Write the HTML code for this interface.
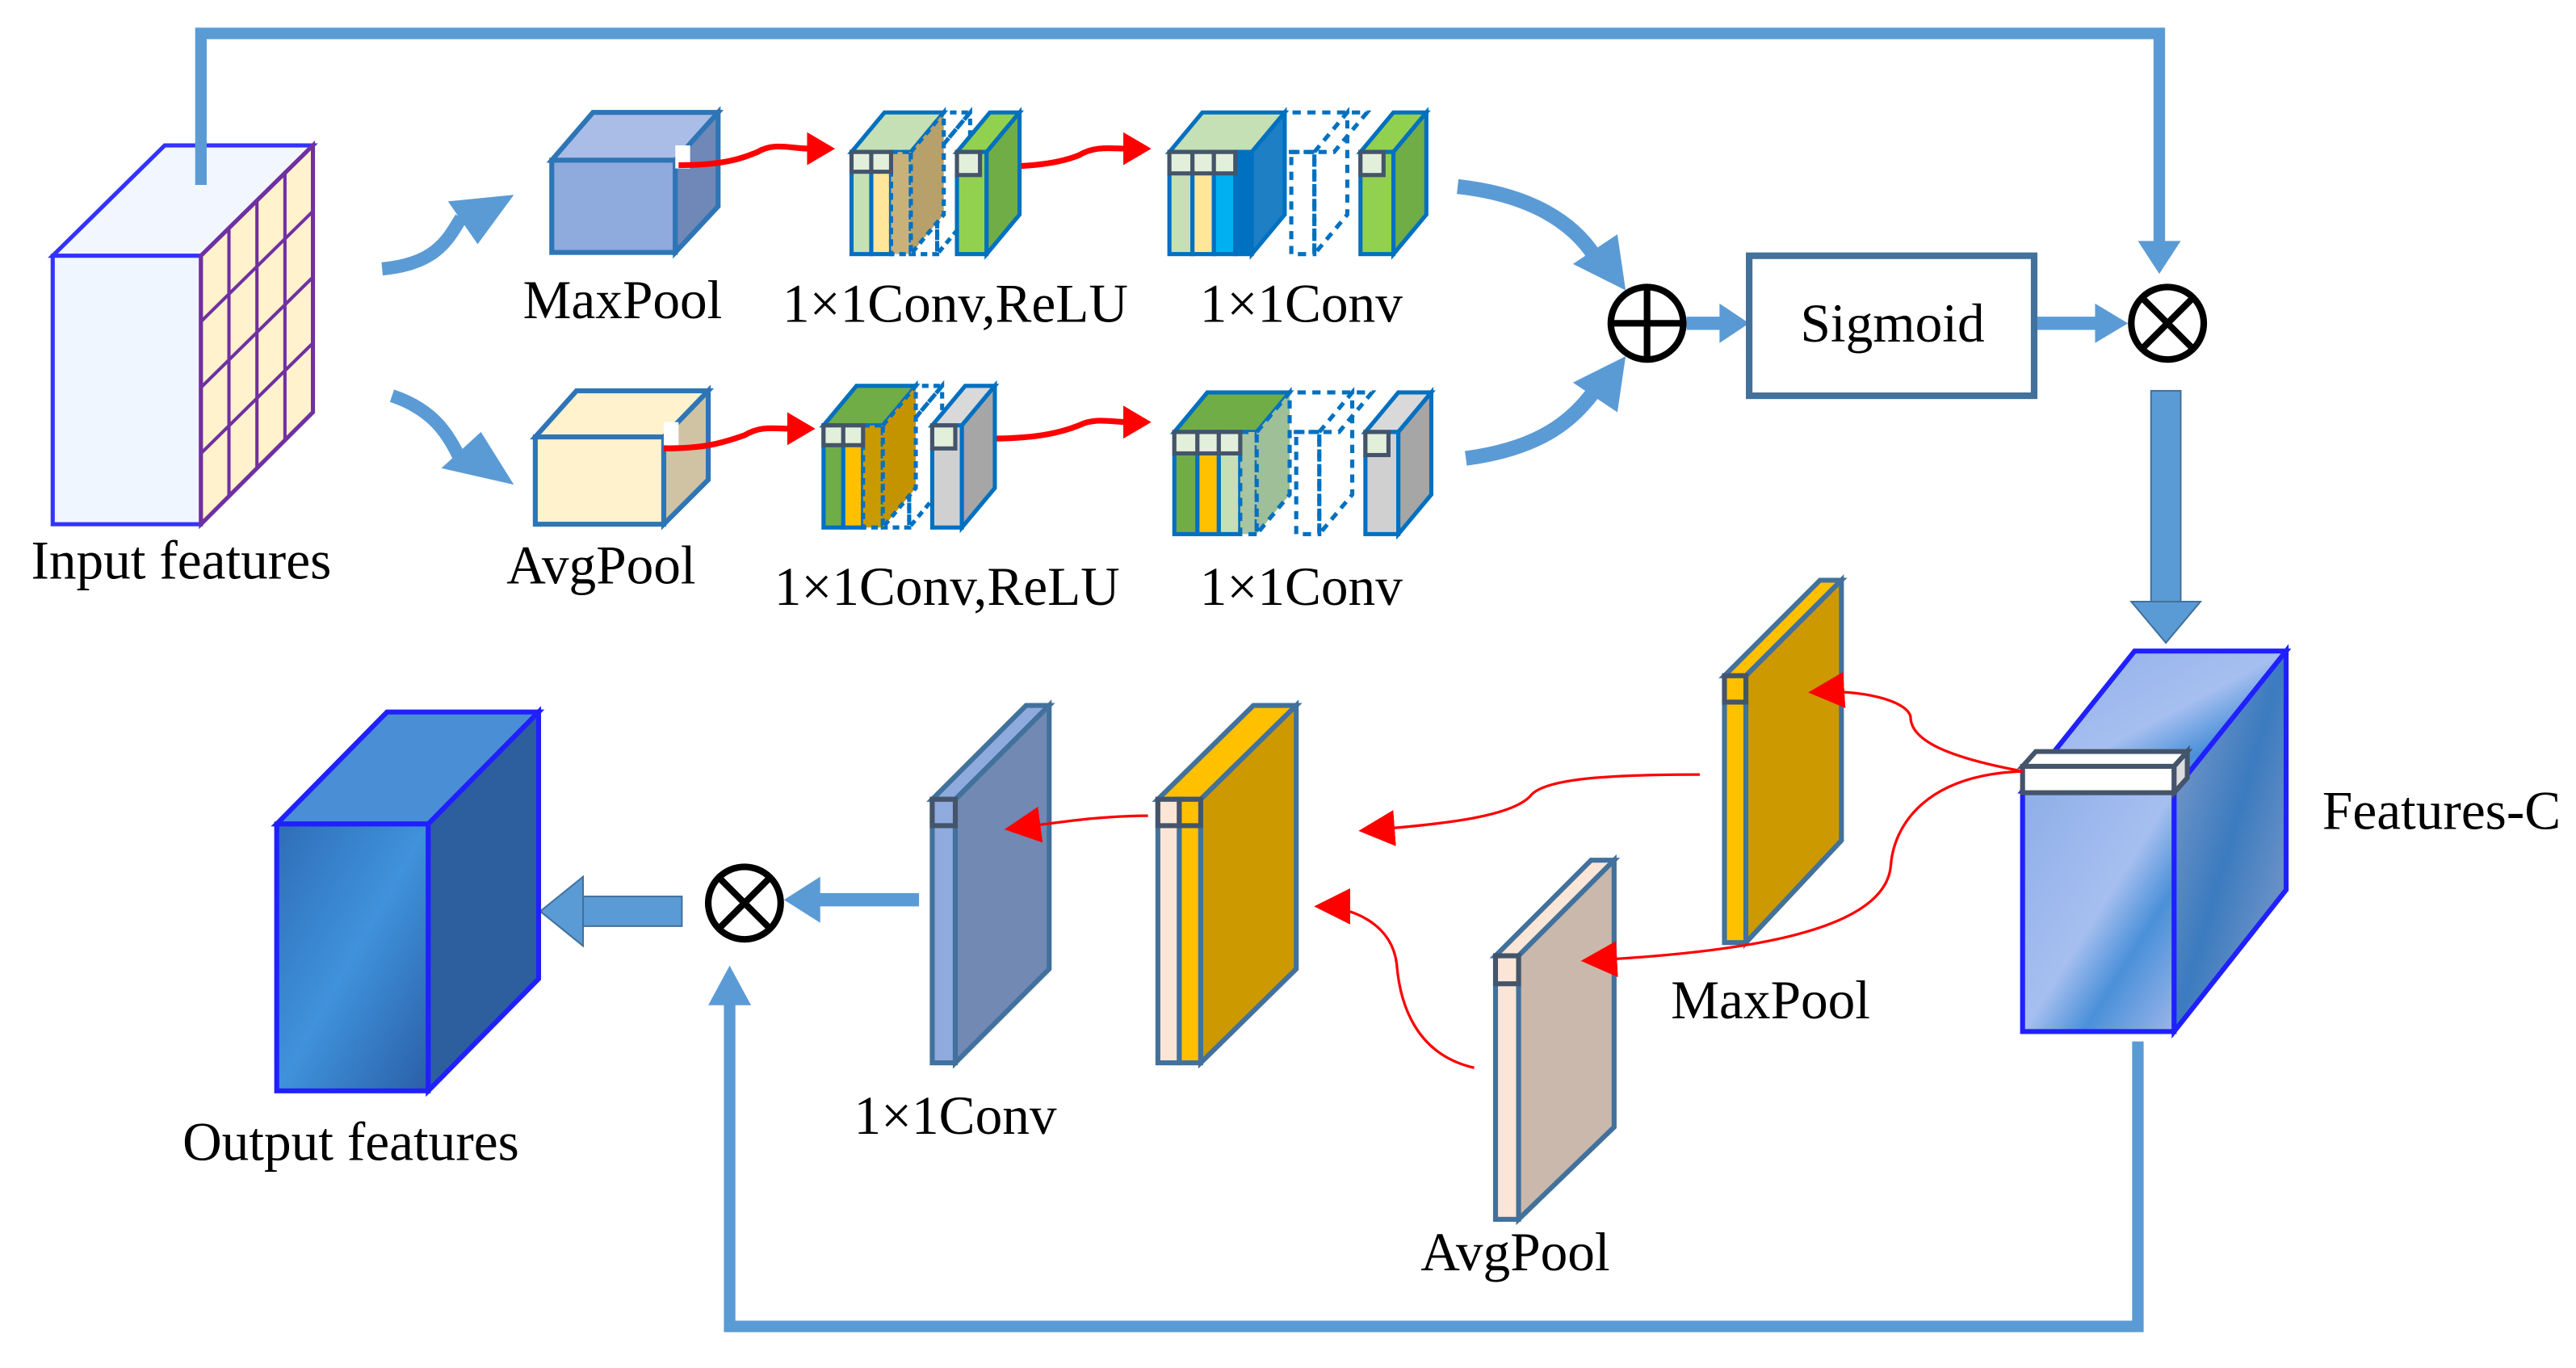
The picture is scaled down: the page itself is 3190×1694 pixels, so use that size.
<!DOCTYPE html>
<html><head><meta charset="utf-8"><style>
html,body{margin:0;padding:0;background:#fff;}
svg{display:block;}
text{font-family:"Liberation Serif",serif;font-size:33px;fill:#000;}
</style></head><body>
<svg width="3190" height="1694" viewBox="0 0 1564 830" xmlns="http://www.w3.org/2000/svg">
<defs>
<marker id="rb" viewBox="0 0 10 10" refX="9" refY="5" markerWidth="22" markerHeight="22" orient="auto" markerUnits="userSpaceOnUse"><path d="M0,0 L10,5 L0,10 z" fill="#ff0000"/></marker>
<linearGradient id="fc" x1="0" y1="0" x2="1" y2="1"><stop offset="0" stop-color="#8eaee8"/><stop offset="0.5" stop-color="#a6bff0"/><stop offset="0.7" stop-color="#4a90d9"/><stop offset="1" stop-color="#9bb5ea"/></linearGradient>
<linearGradient id="fs" x1="0" y1="0" x2="1" y2="1"><stop offset="0" stop-color="#8aa0cc"/><stop offset="0.5" stop-color="#3b7bbf"/><stop offset="1" stop-color="#8aa0cc"/></linearGradient>
<linearGradient id="oc" x1="0" y1="0" x2="1" y2="1"><stop offset="0" stop-color="#2f6db8"/><stop offset="0.5" stop-color="#3f92db"/><stop offset="1" stop-color="#2a5fa8"/></linearGradient>
</defs>

<!-- input cube -->
<polygon points="32,155 100,88 190,88 122,155" fill="#f2f7ff" stroke="#3333ff" stroke-width="2.5"/>
<rect x="32" y="155" width="90" height="163" fill="#f0f6ff" stroke="#3333ff" stroke-width="2.5"/>
<polygon points="122,155 190,88 190,250 122,318" fill="#fff2cc" stroke="#7030a0" stroke-width="2.5"/>
<g stroke="#7030a0" stroke-width="2" fill="none">
<line x1="139" y1="138" x2="139" y2="301"/><line x1="156" y1="121" x2="156" y2="284"/><line x1="173" y1="104" x2="173" y2="267"/>
<line x1="122" y1="195" x2="190" y2="128"/><line x1="122" y1="235" x2="190" y2="168"/><line x1="122" y1="275" x2="190" y2="208"/>
</g>
<text x="110" y="351" text-anchor="middle">Input features</text>

<!-- top loop -->
<polyline points="122,112 122,20 1311,20 1311,150" fill="none" stroke="#5b9bd5" stroke-width="7"/>
<path d="M1298,146 L1324,146 L1311,166 z" fill="#5b9bd5"/>

<!-- curved blue arrows from input -->
<path d="M232,163 C265,160 272,145 280,132" fill="none" stroke="#5b9bd5" stroke-width="8"/>
<path d="M272,122 L312,118 L290,148 z" fill="#5b9bd5"/>
<path d="M238,240 C262,248 272,262 280,280" fill="none" stroke="#5b9bd5" stroke-width="8"/>
<path d="M268,284 L312,294 L292,262 z" fill="#5b9bd5"/>

<!-- MaxPool cube -->
<polygon points="335,97 360,68 436,68 410,97" fill="#a9bde6" stroke="#2e75b6" stroke-width="3"/>
<rect x="335" y="97" width="75" height="56" fill="#8faadc" stroke="#2e75b6" stroke-width="3"/>
<polygon points="410,97 436,68 436,125 410,153" fill="#6f88b8" stroke="#2e75b6" stroke-width="3"/>
<rect x="410" y="88" width="9" height="14" fill="#fff"/>
<text x="378" y="193" text-anchor="middle">MaxPool</text>

<!-- AvgPool cube -->
<polygon points="325,265 350,237 430,237 403,265" fill="#fff2cc" stroke="#2e75b6" stroke-width="3"/>
<rect x="325" y="265" width="78" height="53" fill="#fff2cc" stroke="#2e75b6" stroke-width="3"/>
<polygon points="403,265 430,237 430,291 403,318" fill="#cfc3a3" stroke="#2e75b6" stroke-width="3"/>
<rect x="403" y="256" width="9" height="14" fill="#fff"/>
<text x="365" y="354" text-anchor="middle">AvgPool</text>

<!-- red wavy arrows -->
<path d="M412,100 C440,100 450,96 460,92 C470,86 480,90 492,90" fill="none" stroke="#ff0000" stroke-width="3.5"/>
<path d="M490,80 L507,90 L490,100 z" fill="#ff0000"/>
<path d="M602,101 C630,101 645,98 655,94 C665,88 675,90 685,90" fill="none" stroke="#ff0000" stroke-width="3.5"/>
<path d="M682,80 L699,90 L682,100 z" fill="#ff0000"/>
<path d="M403,272 C430,272 440,268 452,264 C462,258 470,260 480,260" fill="none" stroke="#ff0000" stroke-width="3.5"/>
<path d="M478,250 L495,260 L478,270 z" fill="#ff0000"/>
<path d="M602,266 C630,266 645,262 655,258 C665,253 675,256 685,256" fill="none" stroke="#ff0000" stroke-width="3.5"/>
<path d="M682,246 L699,256 L682,266 z" fill="#ff0000"/>

<!-- stack: top 1 -->
<g transform="translate(517,92)" stroke="#0070c0" stroke-width="2.5">
 <polygon points="36,0 56,-24 72,-24 52,0" fill="none" stroke-dasharray="4,3"/>
 <rect x="36" y="0" width="16" height="62" fill="none" stroke-dasharray="4,3"/>
 <polygon points="52,0 72,-24 72,38 52,62" fill="none" stroke-dasharray="4,3"/>
 <polygon points="0,0 20,-24 56,-24 36,0" fill="#c5e0b4"/>
 <rect x="0" y="0" width="12" height="62" fill="#c5e0b4"/>
 <rect x="12" y="0" width="12" height="62" fill="#ffe699"/>
 <rect x="24" y="0" width="12" height="62" fill="#c9b27a" stroke-dasharray="4,3"/>
 <polygon points="36,0 56,-24 56,38 36,62" fill="#b8a06a" stroke-dasharray="4,3"/>
 <g fill="#e2efda" stroke="#44546a"><rect x="0" y="0" width="12" height="12"/><rect x="12" y="0" width="12" height="12"/></g>
 <polygon points="64,0 84,-24 102,-24 82,0" fill="#92d050"/>
 <rect x="64" y="0" width="18" height="62" fill="#92d050"/>
 <polygon points="82,0 102,-24 102,38 82,62" fill="#70ad47"/>
 <rect x="64" y="0" width="14" height="14" fill="#e2efda" stroke="#44546a"/>
</g>
<text x="580" y="195" text-anchor="middle">1×1Conv,ReLU</text>

<!-- stack: top 2 -->
<g transform="translate(710,92)" stroke="#0070c0" stroke-width="2.5">
 <polygon points="50,0 70,-24 120,-24 100,0" fill="none" stroke-dasharray="5,4"/>
 <rect x="74" y="0" width="14" height="62" fill="none" stroke-dasharray="5,4"/>
 <polygon points="88,0 108,-24 108,38 88,62" fill="none" stroke-dasharray="5,4"/>
 <polygon points="0,0 20,-24 70,-24 50,0" fill="#c5e0b4"/>
 <rect x="0" y="0" width="14" height="62" fill="#c5e0b4"/>
 <rect x="14" y="0" width="13" height="62" fill="#ffe699"/>
 <rect x="27" y="0" width="13" height="62" fill="#00b0f0"/>
 <rect x="40" y="0" width="10" height="62" fill="#0070c0"/>
 <polygon points="50,0 70,-24 70,38 50,62" fill="#1f7fc4"/>
 <g fill="#e2efda" stroke="#44546a"><rect x="0" y="0" width="14" height="13"/><rect x="14" y="0" width="13" height="13"/><rect x="27" y="0" width="13" height="13"/></g>
 <polygon points="116,0 136,-24 156,-24 136,0" fill="#92d050"/>
 <rect x="116" y="0" width="20" height="62" fill="#92d050"/>
 <polygon points="136,0 156,-24 156,38 136,62" fill="#70ad47"/>
 <rect x="116" y="0" width="14" height="14" fill="#e2efda" stroke="#44546a"/>
</g>
<text x="790" y="195" text-anchor="middle">1×1Conv</text>

<!-- stack: bottom 1 -->
<g transform="translate(500,258)" stroke="#0070c0" stroke-width="2.5">
 <polygon points="36,0 56,-24 72,-24 52,0" fill="none" stroke-dasharray="4,3"/>
 <rect x="36" y="0" width="16" height="62" fill="none" stroke-dasharray="4,3"/>
 <polygon points="52,0 72,-24 72,38 52,62" fill="none" stroke-dasharray="4,3"/>
 <polygon points="0,0 20,-24 56,-24 36,0" fill="#70ad47"/>
 <rect x="0" y="0" width="12" height="62" fill="#70ad47"/>
 <rect x="12" y="0" width="12" height="62" fill="#ffc000"/>
 <rect x="24" y="0" width="12" height="62" fill="#c99a00" stroke-dasharray="4,3"/>
 <polygon points="36,0 56,-24 56,38 36,62" fill="#c49400" stroke-dasharray="4,3"/>
 <g fill="#e2efda" stroke="#44546a"><rect x="0" y="0" width="12" height="12"/><rect x="12" y="0" width="12" height="12"/></g>
 <polygon points="66,0 86,-24 104,-24 84,0" fill="#d9d9d9"/>
 <rect x="66" y="0" width="18" height="62" fill="#d0d0d0"/>
 <polygon points="84,0 104,-24 104,38 84,62" fill="#a6a6a6"/>
 <rect x="66" y="0" width="14" height="14" fill="#e2efda" stroke="#44546a"/>
</g>
<text x="575" y="367" text-anchor="middle">1×1Conv,ReLU</text>

<!-- stack: bottom 2 -->
<g transform="translate(713,262)" stroke="#0070c0" stroke-width="2.5">
 <polygon points="50,0 70,-24 120,-24 100,0" fill="none" stroke-dasharray="5,4"/>
 <rect x="74" y="0" width="14" height="62" fill="none" stroke-dasharray="5,4"/>
 <polygon points="88,0 108,-24 108,38 88,62" fill="none" stroke-dasharray="5,4"/>
 <polygon points="0,0 20,-24 70,-24 50,0" fill="#70ad47"/>
 <rect x="0" y="0" width="14" height="62" fill="#70ad47"/>
 <rect x="14" y="0" width="13" height="62" fill="#ffc000"/>
 <rect x="27" y="0" width="13" height="62" fill="#c5e0b4"/>
 <rect x="40" y="0" width="10" height="62" fill="#a9c4a0" stroke-dasharray="5,4"/>
 <polygon points="50,0 70,-24 70,38 50,62" fill="#9fbf98" stroke-dasharray="5,4"/>
 <g fill="#e2efda" stroke="#44546a"><rect x="0" y="0" width="14" height="13"/><rect x="14" y="0" width="13" height="13"/><rect x="27" y="0" width="13" height="13"/></g>
 <polygon points="116,0 136,-24 156,-24 136,0" fill="#d9d9d9"/>
 <rect x="116" y="0" width="20" height="62" fill="#d0d0d0"/>
 <polygon points="136,0 156,-24 156,38 136,62" fill="#a6a6a6"/>
 <rect x="116" y="0" width="14" height="14" fill="#e2efda" stroke="#44546a"/>
</g>
<text x="790" y="367" text-anchor="middle">1×1Conv</text>

<!-- big curved arrows to plus -->
<path d="M885,113 C930,118 955,135 968,155" fill="none" stroke="#5b9bd5" stroke-width="9"/>
<path d="M955,160 L987,176 L982,142 z" fill="#5b9bd5"/>
<path d="M890,278 C935,272 955,255 968,237" fill="none" stroke="#5b9bd5" stroke-width="9"/>
<path d="M955,232 L987,216 L982,250 z" fill="#5b9bd5"/>

<!-- plus -->
<circle cx="1000" cy="196" r="22" fill="#fff" stroke="#000" stroke-width="4"/>
<line x1="978" y1="196" x2="1022" y2="196" stroke="#000" stroke-width="4"/>
<line x1="1000" y1="174" x2="1000" y2="218" stroke="#000" stroke-width="4"/>
<line x1="1024" y1="196" x2="1048" y2="196" stroke="#5b9bd5" stroke-width="8"/>
<path d="M1044,184 L1062,196 L1044,208 z" fill="#5b9bd5"/>

<!-- Sigmoid -->
<rect x="1062" y="155" width="173" height="85" fill="#fff" stroke="#41719c" stroke-width="4"/>
<text x="1149" y="207" text-anchor="middle">Sigmoid</text>
<line x1="1237" y1="196" x2="1276" y2="196" stroke="#5b9bd5" stroke-width="8"/>
<path d="M1272,184 L1292,196 L1272,208 z" fill="#5b9bd5"/>

<!-- otimes top -->
<circle cx="1316" cy="196" r="22" fill="#fff" stroke="#000" stroke-width="4"/>
<line x1="1300" y1="180" x2="1332" y2="212" stroke="#000" stroke-width="4"/>
<line x1="1332" y1="180" x2="1300" y2="212" stroke="#000" stroke-width="4"/>

<!-- thick down arrow -->
<rect x="1306" y="237" width="18" height="130" fill="#5b9bd5" stroke="#41719c" stroke-width="1"/>
<path d="M1294,365 L1336,365 L1315,390 z" fill="#5b9bd5" stroke="#41719c" stroke-width="1"/>

<!-- Features-C -->
<polygon points="1228,480 1296,395 1388,395 1320,480" fill="url(#fc)" stroke="#2020ff" stroke-width="3"/>
<rect x="1228" y="480" width="92" height="146" fill="url(#fc)" stroke="#2020ff" stroke-width="3"/>
<polygon points="1320,480 1388,395 1388,540 1320,626" fill="url(#fs)" stroke="#2020ff" stroke-width="3"/>
<rect x="1228" y="465" width="92" height="16" fill="#fff" stroke="#44546a" stroke-width="3"/>
<polygon points="1228,465 1236,456 1328,456 1320,465" fill="#fff" stroke="#44546a" stroke-width="3"/>
<polygon points="1320,465 1328,456 1328,472 1320,481" fill="#ddd" stroke="#44546a" stroke-width="3"/>
<text x="1410" y="503">Features-C</text>

<!-- bottom loop -->
<polyline points="1298,632 1298,805 443,805 443,605" fill="none" stroke="#5b9bd5" stroke-width="7"/>
<path d="M430,610 L456,610 L443,586 z" fill="#5b9bd5"/>

<!-- MaxPool slab -->
<polygon points="1047,410 1060,410 1118,352 1105,352" fill="#ffc000" stroke="#41719c" stroke-width="3"/>
<rect x="1047" y="410" width="13" height="162" fill="#ffc000" stroke="#41719c" stroke-width="3"/>
<polygon points="1060,410 1118,352 1118,510 1060,572" fill="#cc9900" stroke="#41719c" stroke-width="3"/>
<rect x="1047" y="410" width="13" height="16" fill="#ffc000" stroke="#44546a" stroke-width="3"/>
<text x="1075" y="618" text-anchor="middle">MaxPool</text>

<!-- AvgPool slab -->
<polygon points="908,580 922,580 980,522 966,522" fill="#fbe5d6" stroke="#41719c" stroke-width="3"/>
<rect x="908" y="580" width="14" height="160" fill="#fbe5d6" stroke="#41719c" stroke-width="3"/>
<polygon points="922,580 980,522 980,684 922,740" fill="#c9b8ab" stroke="#41719c" stroke-width="3"/>
<rect x="908" y="580" width="14" height="17" fill="#fbe5d6" stroke="#44546a" stroke-width="3"/>
<text x="920" y="771" text-anchor="middle">AvgPool</text>

<!-- concat slab -->
<polygon points="703,485 729,485 787,428 761,428" fill="#ffc000" stroke="#41719c" stroke-width="3"/>
<rect x="703" y="485" width="13" height="160" fill="#fbe5d6" stroke="#41719c" stroke-width="3"/>
<rect x="716" y="485" width="13" height="160" fill="#ffc000" stroke="#41719c" stroke-width="3"/>
<polygon points="729,485 787,428 787,588 729,645" fill="#cc9900" stroke="#41719c" stroke-width="3"/>
<rect x="703" y="485" width="13" height="16" fill="#fbe5d6" stroke="#44546a" stroke-width="3"/>
<rect x="716" y="485" width="13" height="16" fill="#ffc000" stroke="#44546a" stroke-width="3"/>

<!-- conv slab -->
<polygon points="566,485 580,485 637,428 623,428" fill="#8faadc" stroke="#41719c" stroke-width="3"/>
<rect x="566" y="485" width="14" height="160" fill="#8faadc" stroke="#41719c" stroke-width="3"/>
<polygon points="580,485 637,428 637,588 580,645" fill="#7189b3" stroke="#41719c" stroke-width="3"/>
<rect x="566" y="485" width="14" height="16" fill="#8faadc" stroke="#44546a" stroke-width="3"/>
<text x="580" y="688" text-anchor="middle">1×1Conv</text>

<!-- thin red arrows -->
<g fill="none" stroke="#ff0000" stroke-width="1.6">
<path d="M1228,468 C1185,460 1160,450 1160,435 C1158,425 1130,418 1100,420" marker-end="url(#rb)"/>
<path d="M1228,468 C1170,470 1150,500 1148,525 C1145,565 1060,578 962,583" marker-end="url(#rb)"/>
<path d="M1032,470 C980,470 940,472 930,482 C920,495 880,500 827,504" marker-end="url(#rb)"/>
<path d="M895,648 C860,640 850,610 848,585 C845,560 820,550 800,550" marker-end="url(#rb)"/>
<path d="M697,495 C670,495 650,498 612,503" marker-end="url(#rb)"/>
</g>

<!-- otimes bottom -->
<circle cx="452" cy="548" r="22" fill="#fff" stroke="#000" stroke-width="4"/>
<line x1="436" y1="532" x2="468" y2="564" stroke="#000" stroke-width="4"/>
<line x1="468" y1="532" x2="436" y2="564" stroke="#000" stroke-width="4"/>
<line x1="558" y1="546" x2="494" y2="546" stroke="#5b9bd5" stroke-width="8"/>
<path d="M498,532 L476,546 L498,560 z" fill="#5b9bd5"/>

<!-- thick left arrow -->
<rect x="352" y="544" width="62" height="18" fill="#5b9bd5" stroke="#41719c" stroke-width="1"/>
<path d="M354,532 L328,553 L354,574 z" fill="#5b9bd5" stroke="#41719c" stroke-width="1"/>

<!-- output cube -->
<polygon points="168,500 235,432 327,432 260,500" fill="#4a8fd6" stroke="#2020ff" stroke-width="3"/>
<rect x="168" y="500" width="92" height="162" fill="url(#oc)" stroke="#2020ff" stroke-width="3"/>
<polygon points="260,500 327,432 327,594 260,662" fill="#2d5f9e" stroke="#2020ff" stroke-width="3"/>
<text x="213" y="704" text-anchor="middle">Output features</text>
</svg>
</body></html>
